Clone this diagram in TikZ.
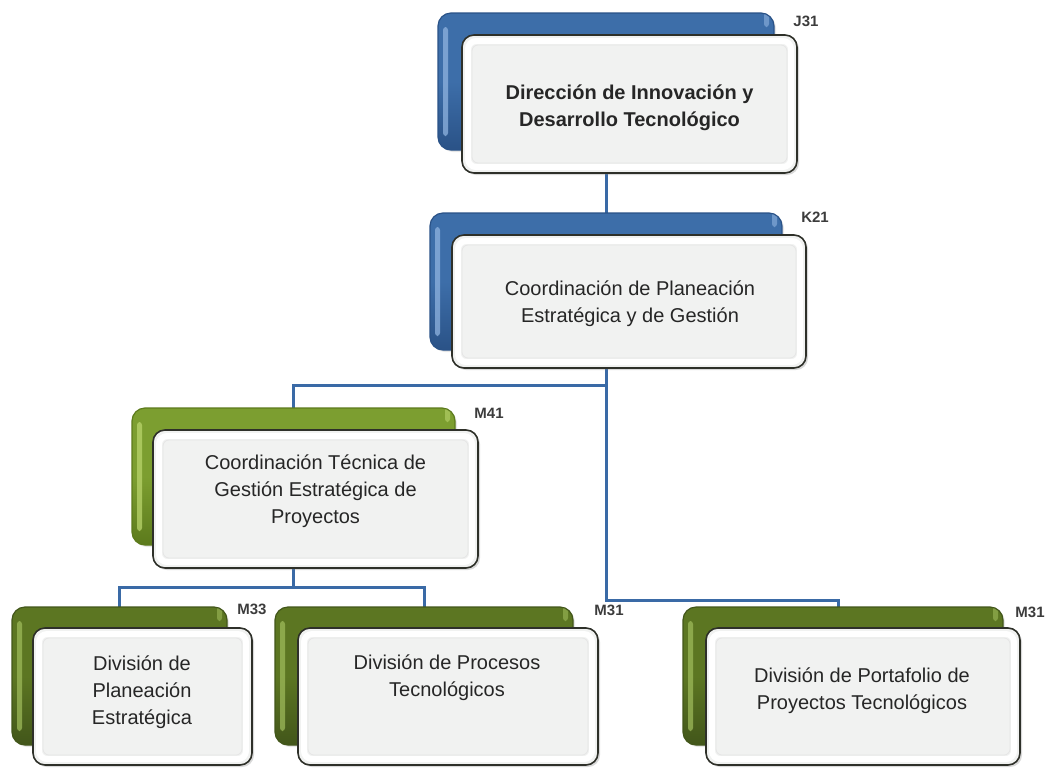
\documentclass[tikz,border=0pt]{standalone}
\usepackage{fontspec}
\setmainfont{Liberation Sans}
\usetikzlibrary{shadows,backgrounds}
\definecolor{lineblue}{HTML}{3A6AA6}
\definecolor{bblue}{HTML}{3D6EA9}
\definecolor{bbluedark}{HTML}{2A5287}
\definecolor{bbluelight}{HTML}{8FB3DF}
\definecolor{gbright}{HTML}{7C9E30}
\definecolor{gbrightdark}{HTML}{5C7A1C}
\definecolor{gbrightlight}{HTML}{B9D46C}
\definecolor{gdark}{HTML}{5C7622}
\definecolor{gdarkdark}{HTML}{42561A}
\definecolor{gdarklight}{HTML}{9DB95A}
\definecolor{frontfill}{HTML}{F1F2F1}
\definecolor{frontedge}{HTML}{2E3029}
\definecolor{txt}{HTML}{262626}
\definecolor{lblgray}{HTML}{3C3C3C}
\tikzset{
  backbox/.style n args={3}{rounded corners=13pt, inner sep=0pt, draw=#2, line width=1.2pt,
    top color=#1, bottom color=#2, middle color=#1,
    drop shadow={opacity=0.2, shadow xshift=2pt, shadow yshift=-2pt},
    path picture={
      \fill[#3, opacity=0.75, rounded corners=3pt]
        ([xshift=5pt,yshift=-14pt]path picture bounding box.north west) rectangle
        ([xshift=10pt,yshift=14pt]path picture bounding box.south west);
      \fill[#3, opacity=0.6, rounded corners=3pt]
        ([xshift=-10pt,yshift=-14pt]path picture bounding box.north east) rectangle
        ([xshift=-5pt,yshift=40pt]path picture bounding box.north east);
    }},
  bluebox/.style={backbox={bblue}{bbluedark}{bbluelight}},
  lgreenbox/.style={backbox={gbright}{gbrightdark}{gbrightlight}},
  dgreenbox/.style={backbox={gdark}{gdarkdark}{gdarklight}},
  frontbox/.style={rounded corners=12pt, inner sep=0pt, draw=frontedge, line width=1.6pt,
    fill=frontfill,
    drop shadow={opacity=0.3, shadow xshift=2pt, shadow yshift=-2pt},
    path picture={
      \draw[white, line width=6pt, rounded corners=8pt]
        ([xshift=6pt,yshift=-6pt]path picture bounding box.north west) rectangle
        ([xshift=-6pt,yshift=6pt]path picture bounding box.south east);
      \draw[black!10, line width=0.8pt, rounded corners=6pt]
        ([xshift=10pt,yshift=-10pt]path picture bounding box.north west) rectangle
        ([xshift=-10pt,yshift=10pt]path picture bounding box.south east);
    }},
  boxtext/.style={align=center, text=txt, font=\fontsize{20}{27}\selectfont, inner sep=0pt},
  lbl/.style={text=lblgray, font=\bfseries\fontsize{15}{18}\selectfont, inner sep=0pt},
  conn/.style={draw=lineblue, line width=3pt}
}
\begin{document}
\begin{tikzpicture}[x=1pt,y=-1pt]
\useasboundingbox (0,0) rectangle (1047,769);
% J31
\node[bluebox, minimum width=336, minimum height=137] (j31b) at (606,81.5) {};
\node[frontbox, minimum width=335, minimum height=138] (j31) at (629.5,104) {};
\node[boxtext] (j31t) at (629.5,108) {\bfseries Dirección de Innovación y\\\bfseries Desarrollo Tecnológico};
\node[lbl] (j31l) at (806,21) {J31};
% K21
\node[bluebox, minimum width=352, minimum height=137] (k21b) at (606,281.5) {};
\node[frontbox, minimum width=354, minimum height=133] (k21) at (629,301.5) {};
\node[boxtext] (k21t) at (630,304) {Coordinación de Planeación\\Estratégica y de Gestión};
\node[lbl] (k21l) at (815,217) {K21};
% M41
\node[lgreenbox, minimum width=323, minimum height=137] (m41b) at (293.5,476.5) {};
\node[frontbox, minimum width=325, minimum height=138] (m41) at (315.5,499) {};
\node[boxtext] (m41t) at (315.5,491) {Coordinación Técnica de\\Gestión Estratégica de\\Proyectos};
\node[lbl] (m41l) at (489,413) {M41};
% M33
\node[dgreenbox, minimum width=215, minimum height=138] (m33b) at (119.5,676) {};
\node[frontbox, minimum width=219, minimum height=137] (m33) at (142.5,696.5) {};
\node[boxtext] (m33t) at (142,692) {División de\\Planeación\\Estratégica};
\node[lbl] (m33l) at (252,609) {M33};
% M31 middle
\node[dgreenbox, minimum width=298, minimum height=138] (m31mb) at (424,676) {};
\node[frontbox, minimum width=300, minimum height=137] (m31m) at (448,696.5) {};
\node[boxtext] (m31mt) at (447,678) {División de Procesos\\Tecnológicos};
\node[lbl] (m31ml) at (609,610) {M31};
% M31 right
\node[dgreenbox, minimum width=320, minimum height=138] (m31rb) at (843,676) {};
\node[frontbox, minimum width=314, minimum height=137] (m31r) at (863,696.5) {};
\node[boxtext] (m31rt) at (862,691) {División de Portafolio de\\Proyectos Tecnológicos};
\node[lbl] (m31rl) at (1030,612) {M31};
% connectors
\coordinate (bus1) at (606,385);
\coordinate (bus2) at (606,600);
\coordinate (bus3) at (293.5,587);
\begin{scope}[on background layer]
\draw[conn] (j31b.center) -- (k21b.center);
\draw[conn] (k21b.center) -- (bus1) -| (m41b.center);
\draw[conn] (bus1) -- (bus2) -| ([xshift=-5pt]m31rb.center);
\draw[conn] (m41b.center) -- (bus3) -| (m33b.center);
\draw[conn] (bus3) -| (m31mb.center);
\end{scope}
\end{tikzpicture}
\end{document}
